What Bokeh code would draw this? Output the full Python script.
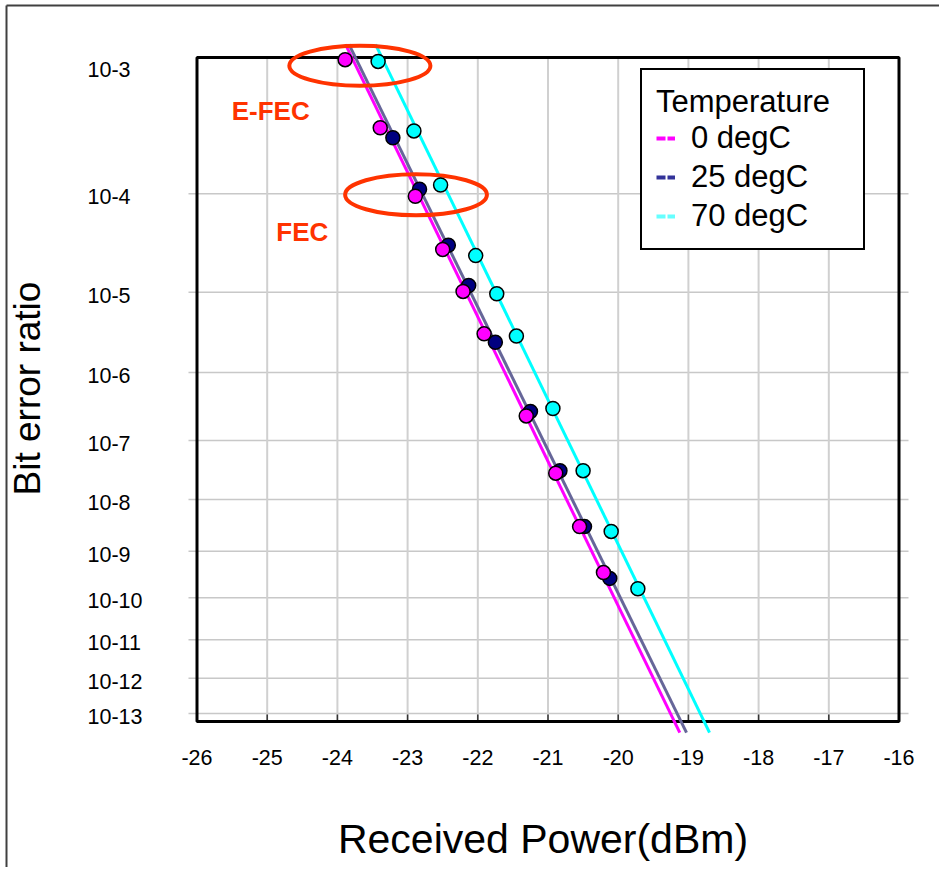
import numpy as np
from bokeh.plotting import figure
from bokeh.models import Range1d, Legend, LegendItem
from bokeh.embed import file_html
from bokeh.resources import INLINE
from bokeh.core.properties import value

# ---------------- data ----------------
series_names = ["0 degC", "25 degC", "70 degC"]

power_0 = [-23.89, -23.39, -22.89, -22.50, -22.21, -21.91, -21.31, -20.89, -20.55, -20.21]
ber_0 = [1.12e-3, 3.6e-4, 9.5e-5, 2.9e-5, 1.02e-5, 3.2e-6, 2.4e-7, 2.9e-8, 3.1e-9, 3.6e-10]

power_25 = [-23.21, -22.83, -22.42, -22.13, -21.75, -21.25, -20.83, -20.48, -20.12]
ber_25 = [3.0e-4, 1.1e-4, 3.2e-5, 1.19e-5, 2.5e-6, 2.8e-7, 3.2e-8, 3.1e-9, 2.7e-10]

power_70 = [-23.42, -22.91, -22.53, -22.03, -21.73, -21.45, -20.93, -20.50, -20.10, -19.72]
ber_70 = [1.09e-3, 3.4e-4, 1.2e-4, 2.5e-5, 9.6e-6, 3.0e-6, 3.1e-7, 3.2e-8, 2.5e-9, 1.6e-10]

# fitted trend lines (end points)
fit_ber = [1.41e-3, 2.66e-14]
fit_power_0 = [-23.885, -19.123]
fit_power_25 = [-23.835, -19.027]
fit_power_70 = [-23.457, -18.699]

# FEC threshold annotations
annot_text = ["E-FEC", "FEC"]
annot_power = [-24.95, -24.50]
annot_ber = [4.8e-4, 4.3e-5]
ellipse_power = [-23.68, -22.88]
ellipse_ber = [1.02e-3, 9.8e-5]
ellipse_width_db = [2.01, 2.02]
ellipse_height = [0.0394, 0.0404]

x_ticks = [-26, -25, -24, -23, -22, -21, -20, -19, -18, -17, -16]
x_tick_labels = ["-26", "-25", "-24", "-23", "-22", "-21", "-20", "-19", "-18", "-17", "-16"]
y_tick_exponents = [3, 4, 5, 6, 7, 8, 9, 10, 11, 12, 13]
y_tick_labels = ["10-3", "10-4", "10-5", "10-6", "10-7", "10-8", "10-9",
                 "10-10", "10-11", "10-12", "10-13"]

x_title = "Received Power(dBm)"
y_title = "Bit error ratio"
legend_title = "Temperature"


# ---------------- scale helpers ----------------
def ber_to_y(b):
    return -np.log10(-np.log10(np.asarray(b, dtype=float)))


FONT = "Liberation Sans"
W, H = 939, 867          # canvas size (page pixels)
PX_DB = 70.2             # pixels per dB
PX_Y = 1015.3            # pixels per transformed BER unit
X_LEFT_PX = 196.5        # page x of -26 dBm
Y4_PX = 193.3            # page y of BER 1e-4
Y4 = float(ber_to_y(1e-4))


def px_x(px):
    return x_ticks[0] + (px - X_LEFT_PX) / PX_DB


def px_y(py):
    return Y4 + (Y4_PX - py) / PX_Y


BOX_X0, BOX_X1 = x_ticks[0], x_ticks[-1]
BOX_Y1 = px_y(57)     # top of black box
BOX_Y0 = px_y(721)    # bottom of black box

c0 = "#FF00FF"
c25_pt = "#000080"
c25_line = "#666699"
c25_leg = "#333399"
c70 = "#00FFFF"
c70_leg = "#66FFFF"
red = "#FF3300"

p = figure(
    width=W, height=H, min_border=0,
    x_range=Range1d(px_x(0), px_x(W)), y_range=Range1d(px_y(H), px_y(0)),
    output_backend="svg", toolbar_location=None,
)
p.xaxis.visible = False
p.yaxis.visible = False
p.grid.visible = False
p.outline_line_color = None
p.background_fill_color = "white"
p.border_fill_color = "white"

# outer picture border (top and left edges)
p.segment(x0=[px_x(6), px_x(6)], y0=[px_y(5), px_y(5)],
          x1=[px_x(W), px_x(6)], y1=[px_y(5), px_y(H)],
          line_color="#404040", line_width=2)

# horizontal grid lines at the decades
grid_y = ber_to_y([10.0 ** -n for n in y_tick_exponents[1:]])
ng = len(grid_y)
p.segment(x0=[px_x(188)] * ng, y0=grid_y, x1=[px_x(908)] * ng, y1=grid_y,
          line_color="#C8C8C8", line_width=1.5)

# vertical grid lines + inner tick marks
inner_x = x_ticks[1:-1]
n_in = len(inner_x)
p.segment(x0=inner_x, y0=[BOX_Y0] * n_in, x1=inner_x, y1=[BOX_Y1] * n_in,
          line_color="#D0D0D0", line_width=2)
p.segment(x0=inner_x, y0=[BOX_Y0] * n_in, x1=inner_x, y1=[BOX_Y0 + 7 / PX_Y] * n_in,
          line_color="#333333", line_width=1.5)

# black plot box
p.quad(left=[BOX_X0], right=[BOX_X1], bottom=[BOX_Y0], top=[BOX_Y1],
       fill_color=None, line_color="black", line_width=3)

# tick labels
p.text(x=x_ticks, y=[px_y(756.5)] * len(x_ticks), text=x_tick_labels,
       text_font=value(FONT), text_font_size="21.5px", text_color="black",
       text_align="center", text_baseline="middle")
p.text(x=[px_x(87)] * len(y_tick_exponents),
       y=ber_to_y([10.0 ** -n for n in y_tick_exponents]) - 3 / PX_Y,
       text=y_tick_labels,
       text_font=value(FONT), text_font_size="21.5px", text_color="black",
       text_align="left", text_baseline="middle")

# axis titles
p.text(x=[px_x(27)], y=[px_y(388)], text=[y_title], angle=np.pi / 2,
       text_font=value(FONT), text_font_size="37px", text_color="black",
       text_align="center", text_baseline="middle")
p.text(x=[px_x(542.5)], y=[px_y(838)], text=[x_title],
       text_font=value(FONT), text_font_size="41px", text_color="black",
       text_align="center", text_baseline="middle")

# trend lines
fy = ber_to_y(fit_ber)
p.line(fit_power_0, fy, line_color=c0, line_width=3)
p.line(fit_power_25, fy, line_color=c25_line, line_width=3)
p.line(fit_power_70, fy, line_color=c70, line_width=3)

# FEC ellipses
p.ellipse(x=ellipse_power, y=ber_to_y(ellipse_ber), width=ellipse_width_db, height=ellipse_height,
          fill_color=None, line_color=red, line_width=4)

# measured points
p.scatter(power_25, ber_to_y(ber_25), size=14, fill_color=c25_pt, line_color="black", line_width=1.5)
p.scatter(power_0, ber_to_y(ber_0), size=14, fill_color=c0, line_color="black", line_width=1.5)
p.scatter(power_70, ber_to_y(ber_70), size=14, fill_color=c70, line_color="black", line_width=1.5)

# FEC labels
p.text(x=annot_power, y=ber_to_y(annot_ber), text=annot_text,
       text_font=value(FONT), text_font_style="bold", text_font_size="26px",
       text_color=red, text_align="center", text_baseline="middle")

# legend (dashed swatches)
nan = np.array([np.nan])
r0 = p.line(nan, nan, line_color=c0, line_width=4, line_dash="9 2")
r25 = p.line(nan, nan, line_color=c25_leg, line_width=4, line_dash="9 2")
r70 = p.line(nan, nan, line_color=c70_leg, line_width=4, line_dash="9 2")
legend = Legend(
    items=[LegendItem(label=series_names[0], renderers=[r0]),
           LegendItem(label=series_names[1], renderers=[r25]),
           LegendItem(label=series_names[2], renderers=[r70])],
    location=(640, H - 250), title=legend_title,
    title_text_font=FONT, title_text_font_size="31px", title_text_font_style="normal",
    title_text_color="black", title_standoff=0,
    label_text_font=FONT, label_text_font_size="31px", label_text_color="black",
    glyph_width=19, glyph_height=20, label_standoff=16, label_width=158,
    spacing=3, padding=14, margin=0,
    border_line_color="black", border_line_width=2, border_line_alpha=1.0,
    background_fill_color="white", background_fill_alpha=1.0,
)
p.add_layout(legend)

open("out.html", "w").write(file_html(p, INLINE))
